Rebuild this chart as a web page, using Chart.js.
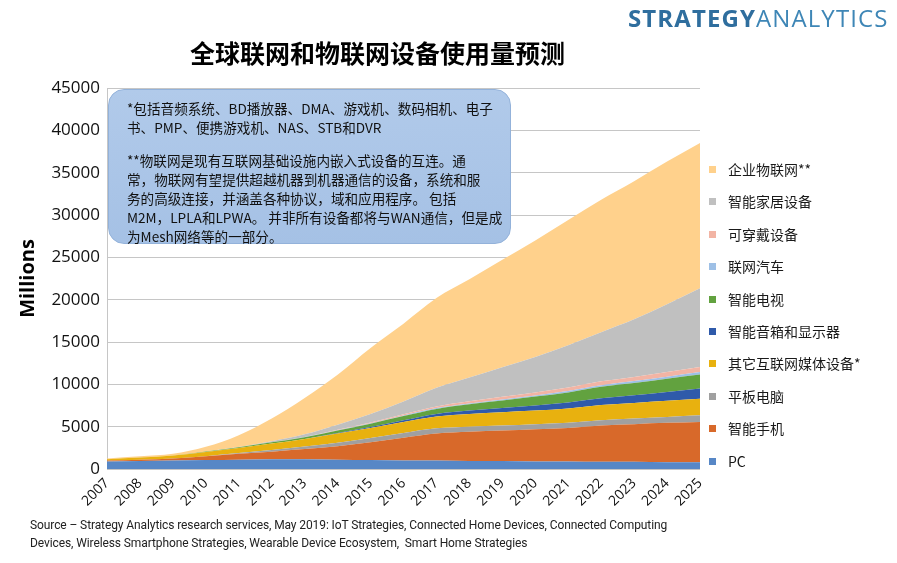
<!DOCTYPE html>
<html>
<head>
<meta charset="utf-8">
<script src="https://cdn.jsdelivr.net/npm/chart.js@4.4.1/dist/chart.umd.min.js"></script>
<style>
  html, body { margin: 0; padding: 0; background: #fff; }
  body { width: 897px; height: 563px; position: relative; overflow: hidden; font-family: "Noto Sans CJK SC", "Noto Sans", sans-serif; }
  #c { position: absolute; left: 0; top: 0; }
  #logo { position: absolute; left: 628px; top: 4px; font-family: "Open Sans", sans-serif; font-size: 24px; line-height: 28px; letter-spacing: 1.1px; white-space: nowrap; }
  #logo .b { font-weight: 700; color: #2F6E9E; }
  #logo .r { font-weight: 400; color: #3E86B6; }
  #title { position: absolute; left: 190px; top: 38px; font-size: 25px; line-height: 28px; font-weight: 700; color: #000; white-space: nowrap; }
  #note { position: absolute; left: 108px; top: 89px; width: 403px; height: 155px; box-sizing: border-box;
          background: linear-gradient(180deg, #B1CAEA 0%, #A5C1E5 100%); border: 1px solid #93B2DA; border-radius: 16px;
          padding: 9px 0 0 18px; font-size: 13.6px; line-height: 19px; color: #111; white-space: nowrap; }
  #note p { margin: 0; }
  #note p + p { margin-top: 14px; }
  #legend { position: absolute; left: 709px; top: 159px; font-size: 14px; color: #1a1a1a; }
  .li { position: absolute; left: 0; height: 20px; white-space: nowrap; }
  .li i { position: absolute; left: 0; top: 7px; width: 7px; height: 7px; }
  .li span { position: absolute; left: 19px; top: 0; line-height: 20px; }
  #source { position: absolute; left: 30px; top: 516px; font-family: Roboto, sans-serif; font-size: 12px; line-height: 18px; color: #222; letter-spacing: -0.1px; white-space: nowrap; }
</style>
</head>
<body>
<canvas id="c" width="897" height="563"></canvas>
<div id="logo"><span class="b">STRATEGY</span><span class="r">ANALYTICS</span></div>
<div id="title">全球联网和物联网设备使用量预测</div>
<div id="note">
  <p>*包括音频系统、BD播放器、DMA、游戏机、数码相机、电子<br>书、PMP、便携游戏机、NAS、STB和DVR</p>
  <p>**物联网是现有互联网基础设施内嵌入式设备的互连。通<br>常，物联网有望提供超越机器到机器通信的设备，系统和服<br>务的高级连接，并涵盖各种协议，域和应用程序。 包括<br>M2M，LPLA和LPWA。 并非所有设备都将与WAN通信，但是成<br>为Mesh网络等的一部分。</p>
</div>
<div id="legend"></div>
<div id="source">Source – Strategy Analytics research services, May 2019: IoT Strategies, Connected Home Devices, Connected Computing<br>Devices, Wireless Smartphone Strategies, Wearable Device Ecosystem,&nbsp; Smart Home Strategies</div>
<script>
// Categories
const years = ['2007','2008','2009','2010','2011','2012','2013','2014','2015','2016','2017','2018','2019','2020','2021','2022','2023','2024','2025'];

// Series values (millions of devices), bottom to top of the stack
const pc         = [900, 950, 1000, 1050, 1100, 1150, 1150, 1100, 1050, 1000, 1000, 950, 950, 900, 900, 850, 850, 800, 800];
const smartphone = [100, 150, 250, 450, 700, 900, 1200, 1600, 2100, 2700, 3200, 3450, 3600, 3800, 3950, 4300, 4450, 4650, 4750];
const tablet     = [0, 0, 0, 20, 80, 200, 300, 400, 500, 550, 600, 600, 600, 600, 600, 600, 650, 700, 800];
const otherMedia = [150, 250, 350, 500, 600, 750, 900, 1100, 1200, 1300, 1400, 1500, 1550, 1600, 1700, 1800, 1850, 1900, 1950];
const speakers   = [0, 0, 0, 0, 0, 0, 0, 50, 100, 200, 300, 400, 500, 600, 700, 800, 900, 1050, 1200];
const smartTV    = [0, 0, 0, 50, 100, 150, 200, 300, 400, 500, 600, 750, 900, 1050, 1200, 1350, 1450, 1550, 1650];
const car        = [0, 0, 0, 0, 0, 10, 20, 30, 50, 70, 90, 100, 120, 140, 170, 200, 230, 260, 300];
const wearables  = [0, 0, 0, 0, 0, 10, 20, 50, 100, 150, 200, 250, 300, 350, 400, 450, 500, 550, 600];
const smartHome  = [0, 0, 0, 0, 20, 100, 300, 600, 1000, 1500, 2200, 2800, 3500, 4200, 5000, 5800, 6800, 8000, 9300];
const enterprise = [100, 150, 200, 550, 1400, 2700, 4300, 5900, 7800, 9200, 10600, 11600, 12700, 13750, 14800, 15650, 16300, 16850, 17150];

// Series names (legend labels), same order
const seriesNames = [' PC', '智能手机', '平板电脑', '其它互联网媒体设备*', '智能音箱和显示器', '智能电视', '联网汽车', '可穿戴设备', '智能家居设备', '企业物联网**'];
const seriesData = [pc, smartphone, tablet, otherMedia, speakers, smartTV, car, wearables, smartHome, enterprise];
const seriesColors = ['#5787C6', '#D8692A', '#A0A0A0', '#E8B10F', '#2F5AAA', '#62A23F', '#9EC0E6', '#F2B4A4', '#C0C0C0', '#FFD18C'];

const datasets = seriesData.map((d, i) => ({
  label: seriesNames[i],
  data: d,
  backgroundColor: seriesColors[i],
  borderColor: seriesColors[i],
  borderWidth: 0,
  pointRadius: 0,
  pointHoverRadius: 0,
  tension: 0.15,
  cubicInterpolationMode: 'monotone',
  fill: i === 0 ? 'origin' : '-1'
}));

new Chart(document.getElementById('c'), {
  type: 'line',
  data: { labels: years, datasets },
  options: {
    responsive: false,
    animation: false,
    events: [],
    layout: { padding: { left: 0, right: 197, top: 88, bottom: 34 } },
    plugins: { legend: { display: false }, tooltip: { enabled: false }, title: { display: false } },
    scales: {
      x: {
        type: 'category',
        offset: false,
        grid: { display: false, drawTicks: false },
        border: { display: false },
        ticks: { minRotation: 45, maxRotation: 45, autoSkip: false, padding: 6, color: '#111', font: { family: 'Open Sans', size: 14 } },
        afterFit: (s) => { s.height = 60; }
      },
      y: {
        stacked: true,
        min: 0, max: 45000,
        grid: { color: '#C6C6C6', lineWidth: 1, drawTicks: false },
        border: { display: true, color: '#C6C6C6', width: 1 },
        ticks: { stepSize: 5000, padding: 7, color: '#111', font: { family: 'Open Sans', size: 17 }, callback: (v) => String(v) },
        title: { display: true, text: 'Millions', color: '#000', padding: { top: 16, bottom: 0 }, font: { family: 'Open Sans', size: 20, weight: 'bold' } },
        afterFit: (s) => { s.width = 107; }
      }
    }
  }
});

// HTML legend, top item = last series
const legend = document.getElementById('legend');
const order = seriesNames.map((_, i) => i).reverse();
order.forEach((idx, row) => {
  const div = document.createElement('div');
  div.className = 'li';
  div.style.top = (row * 32.4) + 'px';
  const sq = document.createElement('i');
  sq.style.background = seriesColors[idx];
  const sp = document.createElement('span');
  sp.textContent = seriesNames[idx];
  div.appendChild(sq); div.appendChild(sp);
  legend.appendChild(div);
});
</script>
</body>
</html>
